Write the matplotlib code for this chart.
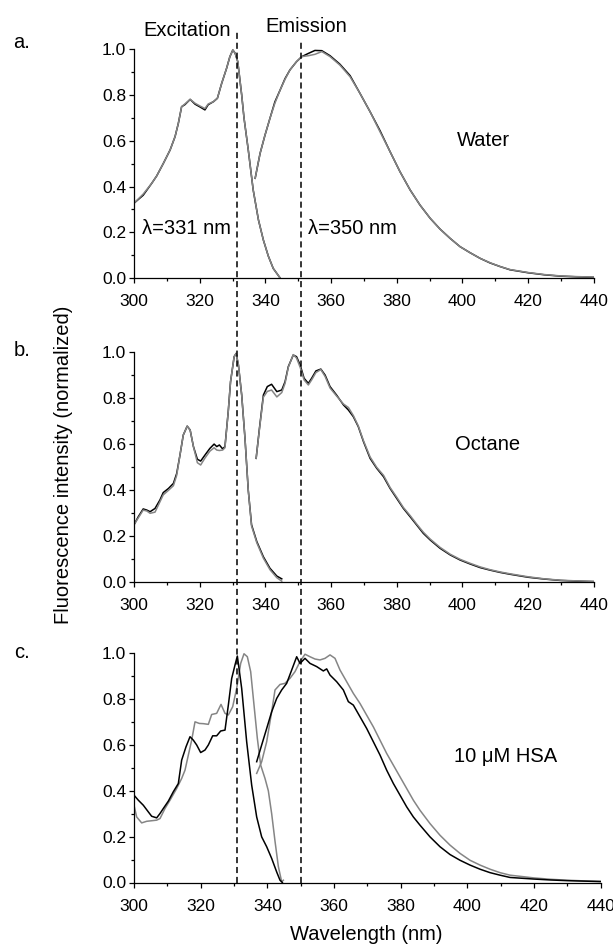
import numpy as np
import matplotlib
matplotlib.use("Agg")
import matplotlib.pyplot as plt
from matplotlib.lines import Line2D
from matplotlib import transforms
from matplotlib.ticker import MultipleLocator, FormatStrFormatter

plt.rcParams['font.family'] = ['Liberation Sans', 'DejaVu Sans']

# ---------------- Panel a: Water ----------------
a_ex_x = [300, 302.8, 305.4, 306.9, 308.9, 311, 312.5, 313.5, 314.5, 315.5, 317.1, 318.6, 320.1,
          321.6, 322.6, 324.2, 325.4, 326.7, 328.2, 329.2, 330.1, 330.8, 331.6, 332.8, 333.5,
          334.8, 336.3, 337.9, 339.4, 340.9, 342.4, 344.5]
a_ex_y = [0.327, 0.367, 0.414, 0.446, 0.50, 0.56, 0.618, 0.676, 0.749, 0.761, 0.781, 0.764, 0.752,
          0.741, 0.761, 0.771, 0.786, 0.851, 0.917, 0.968, 0.997, 0.983, 0.946, 0.80, 0.70,
          0.56, 0.385, 0.254, 0.166, 0.096, 0.042, 0.0]
a_ex_y_black = [0.327, 0.362, 0.414, 0.446, 0.50, 0.56, 0.618, 0.676, 0.749, 0.758, 0.781, 0.760, 0.748,
                0.735, 0.758, 0.771, 0.786, 0.851, 0.917, 0.968, 0.997, 0.983, 0.946, 0.80, 0.70,
                0.56, 0.385, 0.254, 0.166, 0.096, 0.042, 0.0]
a_em_x = [336.9, 338.4, 339.9, 341.4, 342.9, 344.5, 346, 347.5, 349.5, 351.1, 353.1, 355.1, 357.2,
          359.7, 362.7, 365.8, 368.8, 371.9, 374.9, 378, 381, 384.1, 387.1, 390.2, 393.2, 396.3,
          399.3, 402.3, 405.4, 408.4, 411.5, 414.5, 420, 425, 430, 435, 440]
a_em_gray = [0.436, 0.545, 0.625, 0.698, 0.764, 0.822, 0.869, 0.91, 0.946, 0.968, 0.972, 0.978, 0.990,
             0.968, 0.931, 0.88, 0.808, 0.727, 0.64, 0.552, 0.465, 0.385, 0.319, 0.261, 0.214, 0.173,
             0.137, 0.111, 0.086, 0.067, 0.05, 0.037, 0.024, 0.015, 0.009, 0.006, 0.004]
a_em_black = [0.436, 0.545, 0.625, 0.698, 0.770, 0.822, 0.872, 0.91, 0.946, 0.968, 0.982, 0.995, 0.994,
              0.972, 0.935, 0.885, 0.808, 0.727, 0.645, 0.552, 0.465, 0.385, 0.319, 0.261, 0.214, 0.173,
              0.137, 0.111, 0.086, 0.066, 0.05, 0.036, 0.023, 0.014, 0.008, 0.005, 0.003]

# ---------------- Panel b: Octane ----------------
b_ex_x = [300, 301.3, 302.8, 303.9, 304.9, 306.4, 307.9, 308.9, 310.5, 312, 313, 314, 315, 316.2,
          317.1, 318.1, 319.3, 320.3, 321.6, 323.1, 324.4, 325.2, 326, 327, 327.7, 328.7, 329.4,
          330.5, 331.1, 331.8, 332.8, 333.8, 334.8, 335.8, 337.4, 339.4, 341.4, 343.5, 345]
b_ex_black = [0.25, 0.285, 0.319, 0.314, 0.307, 0.321, 0.358, 0.39, 0.408, 0.43, 0.473, 0.553, 0.64, 0.679,
              0.662, 0.59, 0.535, 0.527, 0.553, 0.582, 0.601, 0.59, 0.597, 0.58, 0.59, 0.742, 0.872,
              0.981, 0.995, 0.945, 0.814, 0.626, 0.40, 0.25, 0.177, 0.111, 0.061, 0.027, 0.015]
b_ex_gray = [0.25, 0.28, 0.314, 0.31, 0.30, 0.305, 0.35, 0.38, 0.40, 0.42, 0.465, 0.553, 0.64, 0.679,
             0.662, 0.59, 0.52, 0.51, 0.54, 0.57, 0.585, 0.575, 0.573, 0.575, 0.585, 0.742, 0.872,
             0.981, 0.995, 0.945, 0.814, 0.626, 0.40, 0.245, 0.172, 0.105, 0.055, 0.02, 0.005]
b_em_x = [337.2, 338.2, 339.4, 340.6, 341.9, 343.5, 345, 346, 347, 348.5, 349.5, 350.6, 351.8, 353.1,
          354.1, 355.4, 356.9, 358.2, 359.7, 361.7, 363.8, 365.3, 366.8, 368.3, 369.9, 371.9, 373.9,
          376, 378, 380, 382, 384.1, 386.1, 388.1, 390.2, 393.2, 396.3, 399.3, 402.3, 405.4, 408.4,
          411.5, 414.5, 420, 425, 430, 435, 440]
b_em_black = [0.539, 0.669, 0.814, 0.851, 0.861, 0.829, 0.836, 0.872, 0.938, 0.988, 0.981, 0.945, 0.887,
              0.865, 0.887, 0.919, 0.927, 0.901, 0.851, 0.814, 0.771, 0.749, 0.72, 0.677, 0.611, 0.539,
              0.496, 0.459, 0.408, 0.365, 0.322, 0.285, 0.249, 0.213, 0.184, 0.148, 0.119, 0.097, 0.08,
              0.064, 0.053, 0.043, 0.035, 0.022, 0.014, 0.008, 0.005, 0.003]
b_em_gray = [0.539, 0.665, 0.805, 0.830, 0.836, 0.806, 0.825, 0.865, 0.935, 0.990, 0.975, 0.935, 0.880,
             0.858, 0.880, 0.912, 0.925, 0.895, 0.845, 0.810, 0.775, 0.760, 0.725, 0.680, 0.615, 0.545,
             0.500, 0.465, 0.412, 0.370, 0.326, 0.290, 0.253, 0.218, 0.188, 0.152, 0.122, 0.100, 0.083,
             0.067, 0.055, 0.045, 0.037, 0.024, 0.015, 0.009, 0.006, 0.004]

# ---------------- Panel c: 10 uM HSA ----------------
c_exb_x = [300, 301.3, 302.8, 304.3, 305.3, 306.8, 307.8, 308.8, 310.3, 311.8, 313.3, 314.3, 315.6,
           316.8, 317.8, 318.8, 320, 321.3, 322.3, 323.6, 324.8, 326, 327.3, 328.3, 329.3, 330.3, 331,
           332.3, 333.8, 335.3, 336.8, 338.3, 339.8, 341.3, 342.8, 343.8, 344.5]
c_exb_y = [0.381, 0.359, 0.337, 0.308, 0.289, 0.282, 0.301, 0.323, 0.355, 0.396, 0.432, 0.534, 0.592,
           0.636, 0.621, 0.6, 0.567, 0.578, 0.6, 0.64, 0.64, 0.661, 0.665, 0.774, 0.89, 0.949, 0.988,
           0.847, 0.614, 0.425, 0.286, 0.199, 0.156, 0.105, 0.046, 0.01, 0.0]
c_exg_x = [300, 300.8, 302.3, 303.8, 306.8, 307.8, 309.3, 310.8, 312.8, 314.3, 315.3, 316.3, 317.3,
           318.3, 319.6, 320.8, 322.3, 323.3, 324.8, 326.1, 327.3, 328.3, 329.6, 330.8, 332, 333,
           334, 335, 336, 337, 338, 339.3, 340.3, 341.3, 342.3, 343.3, 344.3, 344.8]
c_exg_y = [0.337, 0.286, 0.26, 0.267, 0.272, 0.279, 0.323, 0.359, 0.41, 0.454, 0.49, 0.556, 0.621,
           0.701, 0.694, 0.693, 0.69, 0.733, 0.738, 0.777, 0.738, 0.731, 0.767, 0.847, 0.956, 0.998,
           0.985, 0.92, 0.774, 0.629, 0.512, 0.454, 0.40, 0.30, 0.18, 0.07, 0.003, 0.01]
c_emb_x = [336.8, 338.3, 339.8, 341.3, 342.8, 344.3, 345.8, 347.3, 348.8, 349.8, 351.3, 352.8, 354.8,
           356.8, 357.8, 358.8, 360.8, 362.8, 364.3, 365.8, 367.8, 369.8, 371.8, 373.8, 375.8, 377.8,
           379.8, 381.8, 383.8, 385.8, 388.8, 391.8, 394.8, 397.8, 400.8, 403.8, 406.8, 409.8, 412.8,
           420, 425, 430, 435, 440]
c_emb_y = [0.527, 0.6, 0.672, 0.745, 0.803, 0.84, 0.869, 0.927, 0.985, 0.956, 0.978, 0.956, 0.942,
           0.923, 0.932, 0.905, 0.876, 0.84, 0.789, 0.774, 0.723, 0.672, 0.614, 0.556, 0.49, 0.432,
           0.381, 0.33, 0.286, 0.25, 0.199, 0.156, 0.122, 0.097, 0.076, 0.058, 0.043, 0.032, 0.022,
           0.015, 0.011, 0.008, 0.006, 0.004]
c_emg_x = [336.8, 338.3, 339.8, 341.3, 342.3, 343.8, 345.3, 346.8, 348.3, 349.8, 351.3, 352.8, 354.3,
           355.8, 357.3, 358.8, 360.3, 361.8, 363.8, 365.8, 367.8, 369.8, 371.8, 373.8, 375.8, 377.8,
           379.8, 381.8, 383.8, 385.8, 388.8, 391.8, 394.8, 397.8, 400.8, 403.8, 406.8, 409.8, 412.8,
           420, 425, 430, 435, 440]
c_emg_y = [0.476, 0.527, 0.614, 0.745, 0.84, 0.864, 0.869, 0.891, 0.92, 0.964, 0.996, 0.985, 0.975,
           0.971, 0.978, 0.993, 0.978, 0.927, 0.876, 0.825, 0.781, 0.73, 0.679, 0.621, 0.563, 0.512,
           0.461, 0.41, 0.359, 0.315, 0.257, 0.206, 0.163, 0.127, 0.097, 0.076, 0.058, 0.043, 0.032,
           0.02, 0.014, 0.01, 0.007, 0.005]

x_ticks = [300, 320, 340, 360, 380, 400, 420, 440]
y_ticks = [0.0, 0.2, 0.4, 0.6, 0.8, 1.0]
guide_lines = [331, 350]
panel_labels = ['a.', 'b.', 'c.']
solvents = ['Water', 'Octane', '10 \u03bcM HSA']

W, H = 613, 944
fig = plt.figure(figsize=(W / 100, H / 100), dpi=100)

def px_rect(left, right, top, bottom):
    return [left / W, 1 - bottom / H, (right - left) / W, (bottom - top) / H]

ax_a = fig.add_axes(px_rect(134, 593.7, 49.3, 278.0))
ax_b = fig.add_axes(px_rect(134, 593.7, 352.3, 582.3))
ax_c = fig.add_axes(px_rect(134, 600.7, 653.3, 882.5))

GRAY = '#858585'
lw = 1.1

ax_a.plot(a_ex_x, a_ex_y_black, color='black', lw=lw)
ax_a.plot(a_em_x, a_em_black, color='black', lw=lw)
ax_a.plot(a_ex_x, a_ex_y, color=GRAY, lw=lw)
ax_a.plot(a_em_x, a_em_gray, color=GRAY, lw=lw)

ax_b.plot(b_ex_x, b_ex_black, color='black', lw=lw)
ax_b.plot(b_em_x, b_em_black, color='black', lw=lw)
ax_b.plot(b_ex_x, b_ex_gray, color=GRAY, lw=lw)
ax_b.plot(b_em_x, b_em_gray, color=GRAY, lw=lw)

ax_c.plot(c_exg_x, c_exg_y, color=GRAY, lw=lw)
ax_c.plot(c_emg_x, c_emg_y, color=GRAY, lw=lw)
ax_c.plot(c_exb_x, c_exb_y, color='black', lw=lw)
ax_c.plot(c_emb_x, c_emb_y, color='black', lw=lw)

for ax in (ax_a, ax_b, ax_c):
    ax.set_xlim(300, 440)
    ax.set_ylim(0, 1.0)
    ax.spines['top'].set_visible(False)
    ax.spines['right'].set_visible(False)
    for s in ('left', 'bottom'):
        ax.spines[s].set_linewidth(0.9)
    ax.set_xticks(x_ticks)
    ax.set_yticks(y_ticks)
    ax.xaxis.set_minor_locator(MultipleLocator(10))
    ax.yaxis.set_minor_locator(MultipleLocator(0.1))
    ax.yaxis.set_major_formatter(FormatStrFormatter('%.1f'))
    ax.tick_params(axis='both', which='major', direction='out', length=3.6, width=0.9, labelsize=12.5)
    ax.tick_params(axis='both', which='minor', direction='out', length=2.5, width=0.9)
    ax.tick_params(axis='x', which='major', pad=8)
    ax.tick_params(axis='y', which='major', pad=2)
    ax.patch.set_alpha(0)

# dashed guide lines spanning all three panels
trans = transforms.blended_transform_factory(ax_c.transData, fig.transFigure)
tops = [1 - 32 / H, 1 - 40 / H]
for xv, yt in zip(guide_lines, tops):
    fig.add_artist(Line2D([xv, xv], [1 - 882.5 / H, yt], transform=trans, color='black',
                          lw=1.1, dashes=(4, 2.5)))

def ftext(x, y, s, **kw):
    fig.text(x / W, 1 - y / H, s, **kw)

fs = 14.5
ftext(22, 42, panel_labels[0], fontsize=fs, ha='center', va='center')
ftext(22, 350, panel_labels[1], fontsize=fs, ha='center', va='center')
ftext(22, 652, panel_labels[2], fontsize=fs, ha='center', va='center')
ftext(187, 30, 'Excitation', fontsize=fs, ha='center', va='center')
ftext(306, 27, 'Emission', fontsize=fs, ha='center', va='center')
ftext(483, 140, solvents[0], fontsize=fs, ha='center', va='center')
ftext(488, 444, solvents[1], fontsize=fs, ha='center', va='center')
ftext(506, 757, solvents[2], fontsize=fs, ha='center', va='center')
ftext(142, 229, '\u03bb=331 nm', fontsize=fs, ha='left', va='center')
ftext(308, 229, '\u03bb=350 nm', fontsize=fs, ha='left', va='center')
ftext(366, 934, 'Wavelength (nm)', fontsize=fs, ha='center', va='center')
ftext(64, 465, 'Fluorescence intensity (normalized)', fontsize=fs, ha='center', va='center',
      rotation=90)

fig.savefig('out.png', dpi=100)
